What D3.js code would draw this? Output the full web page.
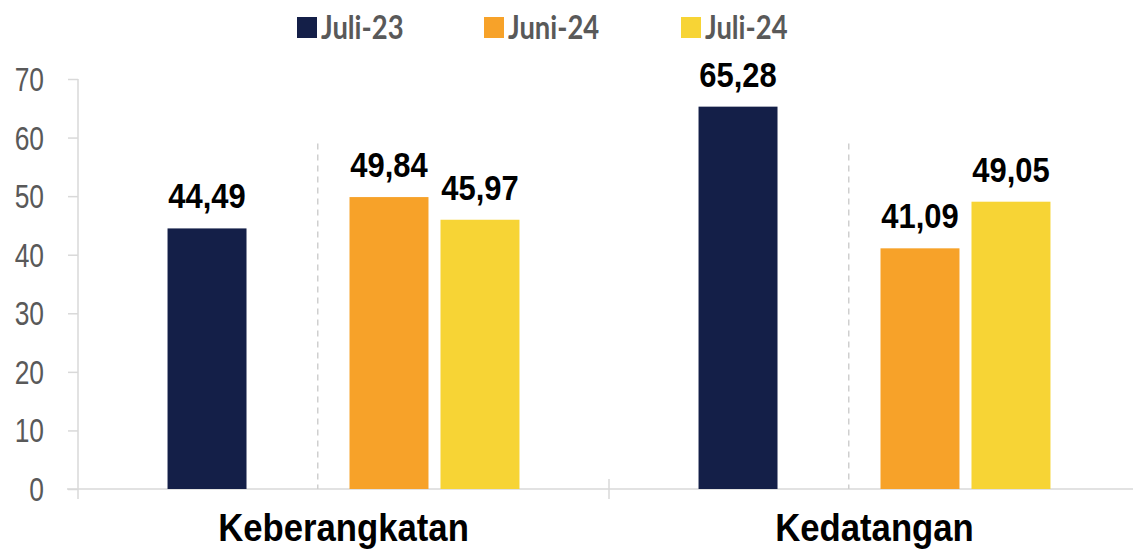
<!DOCTYPE html>
<html>
<head>
<meta charset="utf-8">
<script src="https://cdn.jsdelivr.net/npm/d3@7"></script>
<style>
  body { margin: 0; background: #fff; }
</style>
</head>
<body>
<div class="vis"></div>
<script>
// chart data
const CATEGORIES = ["Keberangkatan", "Kedatangan"];
const SERIES = ["Juli-23", "Juni-24", "Juli-24"];
const JULI_23 = [44.49, 65.28];
const JUNI_24 = [49.84, 41.09];
const JULI_24 = [45.97, 49.05];
const Y_TICKS = [0, 10, 20, 30, 40, 50, 60, 70];

const COLORS = {"Juli-23": "#141f48", "Juni-24": "#f7a229", "Juli-24": "#f7d435"};

// no narrow font installed, so squeeze a normal one
const NARROW = "'Liberation Sans', Arial, sans-serif";

const FRAME_WIDTH = 1133;
const FRAME_HEIGHT = 550;
const MARGINS = {left: 78, right: -62, top: 79, bottom: 61};
const VIS_WIDTH = FRAME_WIDTH - MARGINS.left - MARGINS.right;
const VIS_HEIGHT = FRAME_HEIGHT - MARGINS.top - MARGINS.bottom;

const FRAME = d3.select(".vis")
  .append("svg")
    .attr("width", FRAME_WIDTH)
    .attr("height", FRAME_HEIGHT);

const rows = CATEGORIES.map((c, i) => ({
  cat: c,
  vals: [
    {key: "Juli-23", v: JULI_23[i]},
    {key: "Juni-24", v: JUNI_24[i]},
    {key: "Juli-24", v: JULI_24[i]}
  ]
}));

// scales
const X_SCALE = d3.scaleBand()
  .domain(CATEGORIES)
  .range([0, 1062])
  .padding(0);

// 4 slots, the second one left empty (dashed separator sits there)
const SUB = d3.scaleBand()
  .domain(["Juli-23", "gap", "Juni-24", "Juli-24"])
  .range([0, X_SCALE.bandwidth()])
  .paddingInner(0.132)
  .paddingOuter(0.984);

const Y_SCALE = d3.scaleLinear()
  .domain([0, 70])
  .range([VIS_HEIGHT, 0]);

const g = FRAME.append("g")
  .attr("transform", "translate(" + MARGINS.left + "," + MARGINS.top + ")");

// x axis baseline
g.append("line")
  .attr("x1", -11).attr("x2", FRAME_WIDTH)
  .attr("y1", Y_SCALE(0)).attr("y2", Y_SCALE(0))
  .attr("stroke", "#d9d9d9").attr("stroke-width", 1.5);

// category boundary ticks
g.selectAll(".cat-tick")
  .data(CATEGORIES)
  .enter().append("line")
    .attr("x1", d => X_SCALE(d)).attr("x2", d => X_SCALE(d))
    .attr("y1", d => d === CATEGORIES[0] ? Y_SCALE(70) : Y_SCALE(0) - 10)
    .attr("y2", Y_SCALE(0) + 10)
    .attr("stroke", "#d9d9d9").attr("stroke-width", 1.5);

// y axis
const yAxis = g.append("g")
  .call(d3.axisLeft(Y_SCALE).tickValues(Y_TICKS).tickSize(10).tickPadding(12));
yAxis.select(".domain").remove();
yAxis.selectAll(".tick line").attr("stroke", "#d9d9d9").attr("stroke-width", 1.5);
yAxis.selectAll(".tick text")
  .attr("x", -34 / 0.8)
  .attr("dy", "0.35em")
  .attr("transform", "scale(0.8,1)")
  .attr("fill", "#595959")
  .attr("font-family", NARROW)
  .attr("font-size", "33px");

// dashed separators
g.selectAll(".sep")
  .data(CATEGORIES)
  .enter().append("line")
    .attr("x1", d => X_SCALE(d) + SUB("gap") + SUB.bandwidth() * 0.75)
    .attr("x2", d => X_SCALE(d) + SUB("gap") + SUB.bandwidth() * 0.75)
    .attr("y1", Y_SCALE(59))
    .attr("y2", Y_SCALE(0))
    .attr("stroke", "#cfcfcf")
    .attr("stroke-width", 1.5)
    .attr("stroke-dasharray", "6,5");

// bars
const groups = g.selectAll(".grp")
  .data(rows)
  .enter().append("g")
    .attr("transform", d => "translate(" + X_SCALE(d.cat) + ",0)");

groups.selectAll("rect")
  .data(d => d.vals)
  .enter().append("rect")
    .attr("x", d => SUB(d.key))
    .attr("y", d => Y_SCALE(d.v))
    .attr("width", SUB.bandwidth())
    .attr("height", d => Y_SCALE(0) - Y_SCALE(d.v))
    .attr("fill", d => COLORS[d.key]);

groups.selectAll(".val")
  .data(d => d.vals)
  .enter().append("text")
    .attr("transform", d => "translate(" + (SUB(d.key) + SUB.bandwidth() / 2) + "," + (Y_SCALE(d.v) - 20) + ") scale(0.86,1)")
    .attr("text-anchor", "middle")
    .attr("font-family", NARROW)
    .attr("font-weight", "bold")
    .attr("font-size", "36px")
    .attr("fill", "#000")
    .text(d => d.v.toFixed(2).replace(".", ","));

// category labels
g.selectAll(".cat-label")
  .data(CATEGORIES)
  .enter().append("text")
    .attr("transform", d => "translate(" + (X_SCALE(d) + X_SCALE.bandwidth() / 2) + "," + (Y_SCALE(0) + 52) + ") scale(0.89,1)")
    .attr("text-anchor", "middle")
    .attr("font-family", NARROW)
    .attr("font-weight", "bold")
    .attr("font-size", "39px")
    .attr("fill", "#000")
    .text(d => d);

// legend
const LEG_X = [297, 484, 681];
const legend = FRAME.selectAll(".leg")
  .data(SERIES)
  .enter().append("g")
    .attr("transform", (d, i) => "translate(" + LEG_X[i] + ",17)");

legend.append("rect")
  .attr("width", 20).attr("height", 21)
  .attr("fill", d => COLORS[d]);

legend.append("text")
  .attr("transform", "translate(24,22) scale(0.83,1)")
  .attr("font-family", "Lato, sans-serif")
  .attr("font-weight", "bold")
  .attr("font-size", "33px")
  .attr("fill", "#595959")
  .text(d => d);
</script>
</body>
</html>
